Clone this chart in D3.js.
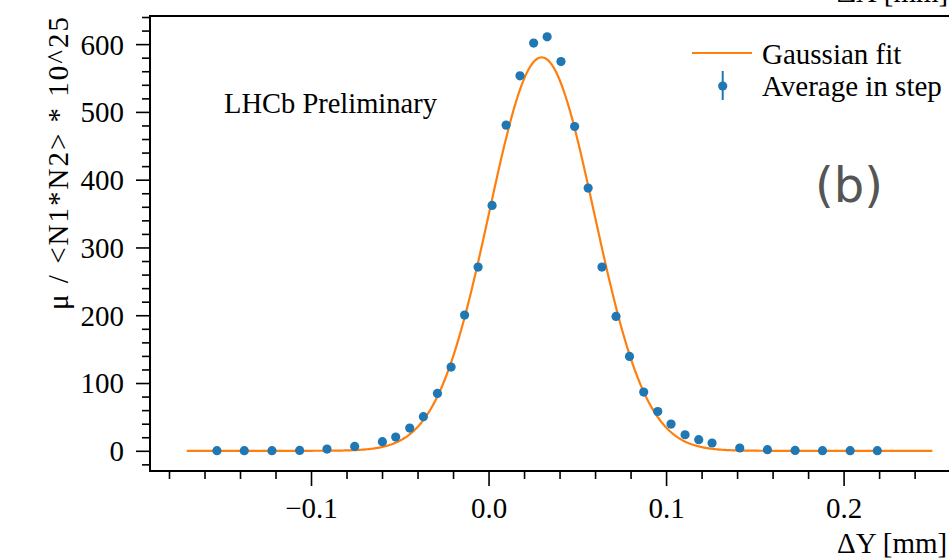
<!DOCTYPE html>
<html>
<head>
<meta charset="utf-8">
<script src="https://cdn.jsdelivr.net/npm/d3@7"></script>
<style>
  html, body { margin: 0; padding: 0; background: #fff; overflow: hidden; }
  svg { display: block; }
  text { font-family: "Liberation Serif", "Times New Roman", serif; fill: #000; }
</style>
</head>
<body>
<svg id="chart" width="949" height="560"></svg>
<script>
// ---- data ----
const stepX = [-0.1530, -0.1376, -0.1220, -0.1064, -0.0910, -0.0754, -0.0598, -0.0523, -0.0444, -0.0367,
               -0.0288, -0.0211, -0.0135, -0.0059, 0.0020, 0.0099, 0.0177, 0.0254, 0.0330, 0.0408,
               0.0485, 0.0561, 0.0639, 0.0718, 0.0794, 0.0874, 0.0953, 0.1028, 0.1107, 0.1184,
               0.1259, 0.1415, 0.1571, 0.1727, 0.1881, 0.2037, 0.2190];
const stepY = [0.2, 0.2, 0.2, 0.5, 2.6, 6.5, 13.4, 20.3, 33.6, 50.3,
               84.7, 123.6, 200.3, 271.1, 362.0, 480.5, 553.2, 601.5, 610.8, 574.3,
               478.5, 387.6, 271.1, 198.2, 139.2, 86.7, 58.0, 39.5, 23.7, 16.4,
               11.5, 4.1, 1.6, 0.5, 0.2, 0.2, 0.2];
// Gaussian fit parameters (amplitude, mean, sigma) and drawn range
const fitParams = { amplitude: 580.5, mean: 0.0299, sigma: 0.0295 };
const fitRange = [-0.17, 0.25];
const xMajorTicks = [-0.1, 0.0, 0.1, 0.2];
const xTickLabels = ["\u22120.1", "0.0", "0.1", "0.2"];
const yMajorTicks = [0, 100, 200, 300, 400, 500, 600];
const yTickLabels = ["0", "100", "200", "300", "400", "500", "600"];
const legendLabels = ["Gaussian fit", "Average in step"];
const xLabel = "\u0394Y [mm]";
const topCutLabel = "\u0394X [mm]";
const yLabel = "\u03bc / <N1*N2> * 10^25";
const annotation = "LHCb Preliminary";
const panelTag = "(b)";

// ---- layout ----
const svg = d3.select("#chart");
const mLeft = 150, mRight = 970, mTop = 16, mBottom = 471;
const x = d3.scaleLinear().domain([-0.1907, 0.2712]).range([mLeft, mRight]);
const y = d3.scaleLinear().domain([-29.8, 641.5]).range([mBottom, mTop]);
const orange = "#ff7f0e", blue = "#1f77b4";
const fs = 29;

// minor ticks
const xMinor = d3.range(-18, 27, 2).map(v => v / 100).filter(v => !xMajorTicks.some(m => Math.abs(m - v) < 1e-9));
const yMinor = d3.range(-20, 641, 20).filter(v => v % 100 !== 0);

// x axis
const gx = svg.append("g").attr("transform", `translate(0,${mBottom})`);
gx.call(d3.axisBottom(x).tickValues(xMinor).tickSize(8).tickFormat(""));
gx.append("g").call(d3.axisBottom(x).tickValues(xMajorTicks).tickSize(15)
    .tickFormat((d, i) => xTickLabels[i]).tickPadding(6));
gx.selectAll("path.domain").remove();
gx.selectAll("line").attr("stroke", "#000").attr("stroke-width", 1.6);
gx.selectAll("text").attr("font-size", fs).attr("font-family", "Liberation Serif").attr("fill", "#000")
  .attr("dy", null).attr("y", 47);

// y axis
const gy = svg.append("g").attr("transform", `translate(${mLeft},0)`);
gy.call(d3.axisLeft(y).tickValues(yMinor).tickSize(8).tickFormat(""));
gy.append("g").call(d3.axisLeft(y).tickValues(yMajorTicks).tickSize(14)
    .tickFormat((d, i) => yTickLabels[i]).tickPadding(12));
gy.selectAll("path.domain").remove();
gy.selectAll("line").attr("stroke", "#000").attr("stroke-width", 1.6);
gy.selectAll("text").attr("font-size", fs).attr("font-family", "Liberation Serif").attr("fill", "#000")
  .attr("dy", "0.34em");

// frame spines
svg.append("line").attr("x1", mLeft).attr("x2", mLeft).attr("y1", mTop).attr("y2", mBottom)
  .attr("stroke", "#000").attr("stroke-width", 2);
svg.append("line").attr("x1", mLeft - 1).attr("x2", mRight).attr("y1", mBottom).attr("y2", mBottom)
  .attr("stroke", "#000").attr("stroke-width", 2);
svg.append("line").attr("x1", mLeft - 1).attr("x2", mRight).attr("y1", mTop).attr("y2", mTop)
  .attr("stroke", "#000").attr("stroke-width", 2);

// fit curve
const gauss = v => fitParams.amplitude * Math.exp(-0.5 * Math.pow((v - fitParams.mean) / fitParams.sigma, 2));
const fitX = d3.range(0, 501).map(i => fitRange[0] + (fitRange[1] - fitRange[0]) * i / 500);
svg.append("path")
  .datum(fitX)
  .attr("fill", "none").attr("stroke", orange).attr("stroke-width", 2.2)
  .attr("d", d3.line().x(d => x(d)).y(d => y(gauss(d))));

// data points
svg.append("g").selectAll("circle")
  .data(stepX.map((v, i) => [v, stepY[i]]))
  .join("circle")
  .attr("cx", d => x(d[0])).attr("cy", d => y(d[1])).attr("r", 4.6)
  .attr("fill", blue);

// legend
const lg = svg.append("g");
lg.append("line").attr("x1", 692).attr("x2", 752).attr("y1", 53).attr("y2", 53)
  .attr("stroke", orange).attr("stroke-width", 2.2);
lg.append("line").attr("x1", 722.7).attr("x2", 722.7).attr("y1", 71).attr("y2", 100)
  .attr("stroke", blue).attr("stroke-width", 2);
lg.append("circle").attr("cx", 722.7).attr("cy", 86).attr("r", 4.6).attr("fill", blue);
lg.append("text").attr("x", 762).attr("y", 63.5).attr("font-size", fs).text(legendLabels[0]);
lg.append("text").attr("x", 762).attr("y", 95.5).attr("font-size", fs).text(legendLabels[1]);

// annotations
svg.append("text").attr("x", 224).attr("y", 113).attr("font-size", 28.5).text(annotation);
svg.append("text").attr("x", 815).attr("y", 202)
  .style("font-family", "'DejaVu Sans', sans-serif").style("fill", "#555555")
  .attr("font-size", 48).text(panelTag);

// axis labels
svg.append("text").attr("x", 837).attr("y", 553).attr("font-size", fs).text(xLabel);
svg.append("text").attr("x", 837).attr("y", 1.5).attr("font-size", fs).text(topCutLabel);
svg.append("text")
  .attr("transform", "translate(68,163.5) rotate(-90)")
  .attr("text-anchor", "middle").attr("font-size", fs)
  .attr("textLength", 293).attr("lengthAdjust", "spacing")
  .text(yLabel);
</script>
</body>
</html>
